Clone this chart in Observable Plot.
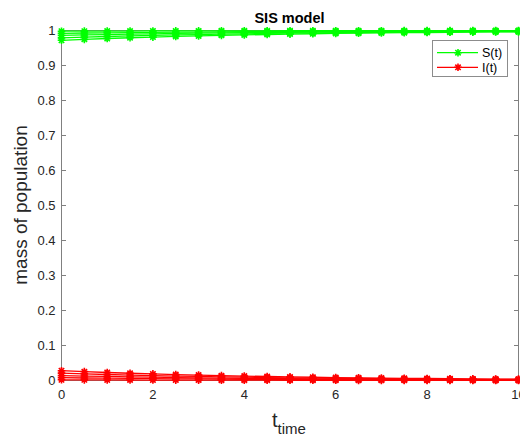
<!DOCTYPE html>
<html><head><meta charset="utf-8">
<script src="https://cdn.jsdelivr.net/npm/d3@7"></script>
<script src="https://cdn.jsdelivr.net/npm/@observablehq/plot@0.6"></script>
<style>body{margin:0;background:#fff} svg{display:block}</style>
</head><body><div id="chart"></div>
<script>
const time = [0,0.5,1,1.5,2,2.5,3,3.5,4,4.5,5,5.5,6,6.5,7,7.5,8,8.5,9,9.5,10];
const S1 = [0.972,0.9747,0.9771,0.9793,0.9812,0.983,0.9846,0.9861,0.9874,0.9886,0.9897,0.9907,0.9916,0.9924,0.9931,0.9938,0.9943,0.9949,0.9954,0.9958,0.9962];
const S2 = [0.979,0.981,0.9828,0.9844,0.9859,0.9873,0.9885,0.9896,0.9906,0.9915,0.9923,0.993,0.9937,0.9943,0.9948,0.9953,0.9958,0.9962,0.9965,0.9969,0.9972];
const S3 = [0.986,0.9873,0.9885,0.9896,0.9906,0.9915,0.9923,0.993,0.9937,0.9943,0.9948,0.9953,0.9958,0.9962,0.9965,0.9969,0.9972,0.9974,0.9977,0.9979,0.9981];
const S4 = [0.992,0.9928,0.9934,0.9941,0.9946,0.9951,0.9956,0.996,0.9964,0.9967,0.9971,0.9973,0.9976,0.9978,0.998,0.9982,0.9984,0.9985,0.9987,0.9988,0.9989];
const S5 = [0.998,0.9982,0.9984,0.9985,0.9987,0.9988,0.9989,0.999,0.9991,0.9992,0.9993,0.9993,0.9994,0.9995,0.9995,0.9996,0.9996,0.9996,0.9997,0.9997,0.9997];
const I1 = [0.028,0.0253,0.0229,0.0207,0.0188,0.017,0.0154,0.0139,0.0126,0.0114,0.0103,0.0093,0.0084,0.0076,0.0069,0.0062,0.0057,0.0051,0.0046,0.0042,0.0038];
const I2 = [0.021,0.019,0.0172,0.0156,0.0141,0.0127,0.0115,0.0104,0.0094,0.0085,0.0077,0.007,0.0063,0.0057,0.0052,0.0047,0.0042,0.0038,0.0035,0.0031,0.0028];
const I3 = [0.014,0.0127,0.0115,0.0104,0.0094,0.0085,0.0077,0.007,0.0063,0.0057,0.0052,0.0047,0.0042,0.0038,0.0035,0.0031,0.0028,0.0026,0.0023,0.0021,0.0019];
const I4 = [0.008,0.0072,0.0066,0.0059,0.0054,0.0049,0.0044,0.004,0.0036,0.0033,0.0029,0.0027,0.0024,0.0022,0.002,0.0018,0.0016,0.0015,0.0013,0.0012,0.0011];
const I5 = [0.002,0.0018,0.0016,0.0015,0.0013,0.0012,0.0011,0.001,0.0009,0.0008,0.0007,0.0007,0.0006,0.0005,0.0005,0.0004,0.0004,0.0004,0.0003,0.0003,0.0003];
const S_series = [S1,S2,S3,S4,S5];
const I_series = [I1,I2,I3,I4,I5];
const xTicks = [0,2,4,6,8,10];
const yTicks = [0,0.1,0.2,0.3,0.4,0.5,0.6,0.7,0.8,0.9,1];
const legendLabels = ["S(t)","I(t)"];
const colors = {S:"#00ff00", I:"#ff0000"};

function toRows(series, kind){
  const out = [];
  series.forEach((vals,i)=>vals.forEach((v,j)=>out.push({t:time[j], v, group:kind+i})));
  return out;
}
const sRows = toRows(S_series,"S");
const iRows = toRows(I_series,"I");

const asterisk = {draw(ctx,size){
  const r = Math.sqrt(size/Math.PI), d = r*Math.SQRT1_2;
  ctx.moveTo(-r,0);ctx.lineTo(r,0);ctx.moveTo(0,-r);ctx.lineTo(0,r);
  ctx.moveTo(-d,-d);ctx.lineTo(d,d);ctx.moveTo(-d,d);ctx.lineTo(d,-d);
}};

const font = "'Liberation Sans', Arial, Helvetica, sans-serif";
const plot = Plot.plot({
  width:520, height:437,
  marginLeft:61, marginRight:2, marginTop:30, marginBottom:57,
  x:{domain:[0,10]}, y:{domain:[0,1]},
  style:{fontFamily:font, fontSize:"13px", color:"#262626", background:"#fff", overflow:"hidden"},
  marks:[
    Plot.frame({stroke:"#808080", strokeWidth:1}),
    Plot.axisX(xTicks,{anchor:"bottom", tickSize:-5, tickPadding:14, label:null, stroke:"#808080", fontSize:13}),
    Plot.axisX(xTicks,{anchor:"top", tickSize:-5, label:null, stroke:"#808080", tickFormat:()=>""}),
    Plot.axisY(yTicks,{anchor:"left", tickSize:-5, tickPadding:11, label:null, stroke:"#808080", fontSize:13, tickFormat:d=>String(d)}),
    Plot.axisY(yTicks,{anchor:"right", tickSize:-5, label:null, stroke:"#808080", tickFormat:()=>""}),
    Plot.line(sRows,{x:"t", y:"v", z:"group", stroke:colors.S, strokeWidth:1.3}),
    Plot.dot(sRows,{x:"t", y:"v", symbol:asterisk, r:3.8, stroke:colors.S, fill:"none", strokeWidth:1.6}),
    Plot.line(iRows,{x:"t", y:"v", z:"group", stroke:colors.I, strokeWidth:1.3}),
    Plot.dot(iRows,{x:"t", y:"v", symbol:asterisk, r:3.8, stroke:colors.I, fill:"none", strokeWidth:1.6})
  ]
});
document.getElementById("chart").appendChild(plot);

const svg = d3.select(plot);
svg.append("text").attr("x",289.5).attr("y",23).attr("text-anchor","middle")
  .attr("font-family",font).attr("font-weight","bold").attr("font-size",14.5).attr("fill","#000").text("SIS model");
svg.append("text").attr("transform","translate(27,205) rotate(-90)").attr("text-anchor","middle")
  .attr("font-family",font).attr("font-size",19).attr("fill","#262626").text("mass of population");
const xl = svg.append("text").attr("x",272).attr("y",427).attr("text-anchor","start").attr("font-family",font).attr("fill","#262626");
xl.append("tspan").attr("font-size",20).text("t");
xl.append("tspan").attr("font-size",15).attr("dy",7).text("time");

const lg = svg.append("g");
lg.append("rect").attr("x",432.5).attr("y",40.5).attr("width",75).attr("height",36)
  .attr("fill","#fff").attr("stroke","#8c8c8c").attr("stroke-width",1);
const sym = d3.symbol().type(asterisk).size(Math.PI*3.8*3.8);
[["S",52.7],["I",67.3]].forEach(([k,yy],i)=>{
  lg.append("line").attr("x1",437).attr("x2",478).attr("y1",yy).attr("y2",yy).attr("stroke",colors[k]).attr("stroke-width",1.3);
  lg.append("path").attr("d",sym()).attr("transform",`translate(458,${yy})`).attr("stroke",colors[k]).attr("fill","none").attr("stroke-width",1.6);
  lg.append("text").attr("x",482).attr("y",yy+4.3).attr("text-anchor","start").attr("font-family",font).attr("font-size",12.5).attr("fill","#000").text(legendLabels[i]);
});
</script></body></html>
